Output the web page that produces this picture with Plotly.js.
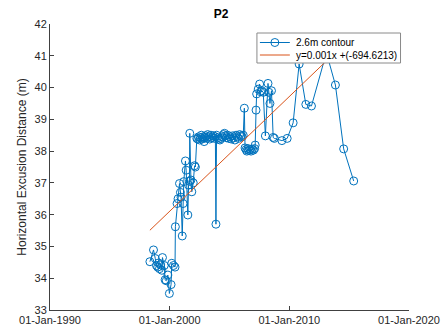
<!DOCTYPE html>
<html>
<head>
<meta charset="utf-8">
<script src="https://cdn.plot.ly/plotly-3.0.1.min.js"></script>
<style>html,body{margin:0;padding:0;background:#fff;}#chart{width:442px;height:333px;}</style>
</head>
<body>
<div id="chart"></div>
<script>
// Survey dates as decimal years, and contour excursion distance (m)
const surveyYears = [
  1998.35, 1998.65, 1998.80, 1998.90, 1999.00, 1999.08, 1999.15, 1999.25, 1999.35, 1999.40,
  1999.55, 1999.62, 1999.72, 1999.85, 1999.98, 2000.12, 2000.18, 2000.32, 2000.45, 2000.48,
  2000.62, 2000.70, 2000.82, 2000.90, 2000.95, 2001.05, 2001.12, 2001.18, 2001.32, 2001.38,
  2001.52, 2001.58, 2001.65, 2001.68, 2001.78, 2001.85, 2001.97, 2002.08, 2002.15, 2002.27,
  2002.35, 2002.42, 2002.50, 2002.58, 2002.65, 2002.72, 2002.80, 2002.88, 2002.95, 2003.03,
  2003.10, 2003.18, 2003.27, 2003.35, 2003.45, 2003.55, 2003.65, 2003.75, 2003.82, 2003.87,
  2003.92, 2004.00, 2004.10, 2004.20, 2004.30, 2004.40, 2004.50, 2004.58, 2004.65, 2004.75,
  2004.85, 2004.95, 2005.05, 2005.15, 2005.25, 2005.35, 2005.45, 2005.55, 2005.65, 2005.75,
  2005.85, 2005.95, 2006.05, 2006.15, 2006.24, 2006.30, 2006.38, 2006.45, 2006.55, 2006.62,
  2006.72, 2006.80, 2006.90, 2007.00, 2007.10, 2007.15, 2007.22, 2007.27, 2007.40, 2007.52,
  2007.60, 2007.70, 2007.82, 2008.00, 2008.22, 2008.30, 2008.38, 2008.51, 2008.65, 2008.75,
  2009.38, 2009.82, 2010.32, 2010.82, 2011.38, 2011.85, 2013.10, 2013.85, 2014.54, 2015.38
];
const contourValues = [
  34.52, 34.89, 34.62, 34.40, 34.35, 34.48, 34.30, 34.42, 34.25, 34.65,
  34.40, 33.95, 33.92, 34.10, 33.52, 33.80, 34.47, 34.40, 34.35, 35.62,
  36.35, 36.50, 36.98, 36.70, 36.55, 35.33, 36.35, 37.04, 37.69, 37.40,
  35.99, 36.93, 37.05, 38.56, 37.09, 36.72, 37.00, 37.54, 37.50, 38.40,
  38.38, 38.45, 38.35, 38.42, 38.50, 38.38, 38.45, 38.30, 38.42, 38.48,
  38.40, 38.52, 38.45, 38.38, 38.50, 38.42, 38.48, 38.40, 38.45, 35.70,
  38.50, 38.42, 38.38, 38.35, 38.40, 38.45, 38.52, 38.56, 38.48, 38.42,
  38.50, 38.40, 38.45, 38.38, 38.48, 38.42, 38.35, 38.50, 38.45, 38.40,
  38.52, 38.48, 38.45, 38.50, 39.35, 38.10, 38.05, 38.00, 38.08, 38.02,
  38.05, 38.00, 38.06, 38.03, 38.08, 38.19, 39.29, 39.80, 39.95, 40.11,
  39.87, 39.90, 39.85, 38.48, 40.13, 39.85, 39.50, 39.90, 38.43, 38.40,
  38.33, 38.40, 38.89, 40.74, 39.47, 39.42, 41.10, 40.08, 38.07, 37.06
];
// Linear trend (start / end of the fitted line)
const fitYears = [1998.35, 2015.38];
const fitValues = [35.51, 41.66];

const seriesNames = ['2.6m contour', 'y=0.001x +(-694.6213)'];
const seriesColors = ['#0072BD', '#D95319'];
const xTickYears = [1990, 2000, 2010, 2020];
const yTicks = [33, 34, 35, 36, 37, 38, 39, 40, 41, 42];

function yearToDate(y) {
  const yr = Math.floor(y);
  const start = Date.UTC(yr, 0, 1);
  const end = Date.UTC(yr + 1, 0, 1);
  const d = new Date(start + (y - yr) * (end - start));
  return d.toISOString().slice(0, 10);
}

const W = 442, H = 333;
const M = {l: 49.5, r: 32.5, t: 24, b: 23};
const PW = W - M.l - M.r, PH = H - M.t - M.b;
// pixel -> paper coordinates (for the legend box)
const px = v => (v - M.l) / PW;
const py = v => (H - M.b - v) / PH;

const FONT = 'Liberation Sans, Arial, sans-serif';
const dataTrace = {
  x: surveyYears.map(yearToDate),
  y: contourValues,
  type: 'scatter',
  mode: 'lines+markers',
  name: seriesNames[0],
  line: {color: seriesColors[0], width: 1},
  marker: {symbol: 'circle-open', size: 8, color: seriesColors[0], line: {width: 1, color: seriesColors[0]}}
};
const fitTrace = {
  x: fitYears.map(yearToDate),
  y: fitValues,
  type: 'scatter',
  mode: 'lines',
  name: seriesNames[1],
  line: {color: seriesColors[1], width: 1}
};

// Custom legend (MATLAB-style compact box)
const LB = {x0: 257, x1: 401, y0: 33, y1: 63};
const rowY = [42.5, 55];
const shapes = [
  {type: 'rect', xref: 'paper', yref: 'paper', x0: px(LB.x0), x1: px(LB.x1), y0: py(LB.y1), y1: py(LB.y0),
   fillcolor: '#ffffff', line: {color: '#8a8a8a', width: 1}, layer: 'above'},
  {type: 'line', xref: 'paper', yref: 'paper', x0: px(260), x1: px(290), y0: py(rowY[0]), y1: py(rowY[0]),
   line: {color: seriesColors[0], width: 1}, layer: 'above'},
  {type: 'circle', xref: 'paper', yref: 'paper', x0: px(271), x1: px(279), y0: py(rowY[0] + 4), y1: py(rowY[0] - 4),
   line: {color: seriesColors[0], width: 1}, layer: 'above'},
  {type: 'line', xref: 'paper', yref: 'paper', x0: px(260), x1: px(290), y0: py(rowY[1]), y1: py(rowY[1]),
   line: {color: seriesColors[1], width: 1}, layer: 'above'}
];
const annotations = seriesNames.map((n, i) => ({
  text: n, xref: 'paper', yref: 'paper', x: px(294), y: py(rowY[i]),
  xanchor: 'left', yanchor: 'middle', showarrow: false,
  font: {family: FONT, size: 10, color: '#000000'}
}));

const layout = {
  width: W, height: H,
  margin: {l: M.l, r: M.r, t: M.t, b: M.b, pad: 0},
  paper_bgcolor: '#ffffff',
  plot_bgcolor: '#ffffff',
  font: {family: FONT, size: 11, color: '#262626'},
  title: {text: '<b>P2</b>', font: {family: FONT, size: 12, color: '#000000'}, x: 0.5, xanchor: 'center', y: 0.958, yanchor: 'middle'},
  showlegend: false,
  shapes: shapes,
  annotations: annotations,
  xaxis: {
    type: 'date',
    range: [yearToDate(1990), yearToDate(2020)],
    tickvals: xTickYears.map(yearToDate),
    tickformat: '%d-%b-%Y',
    ticks: 'inside', ticklen: 4, tickcolor: '#404040',
    showline: true, linecolor: '#404040', linewidth: 1, mirror: false,
    showgrid: false, zeroline: false,
    tickfont: {family: FONT, size: 11, color: '#262626'}
  },
  yaxis: {
    range: [33, 42],
    tickvals: yTicks,
    ticks: 'inside', ticklen: 4, tickcolor: '#404040',
    showline: true, linecolor: '#404040', linewidth: 1, mirror: false,
    showgrid: false, zeroline: false,
    tickfont: {family: FONT, size: 11, color: '#262626'},
    title: {text: 'Horizontal Excusion Distance (m)', font: {family: FONT, size: 12, color: '#262626'}, standoff: 5}
  }
};

Plotly.newPlot('chart', [dataTrace, fitTrace], layout, {displayModeBar: false, staticPlot: true});
</script>
</body>
</html>
